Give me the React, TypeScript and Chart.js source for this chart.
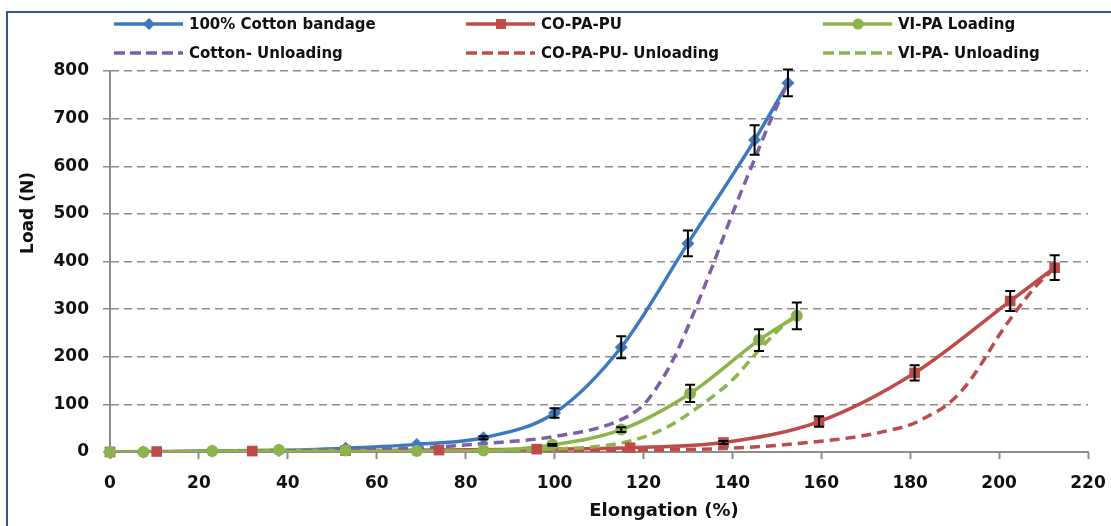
import React, { useEffect, useRef } from "react";
import { Chart, registerables } from "chart.js";

Chart.register(...registerables);

// ---- Data ----
const cottonX = [0, 7.5, 23, 38, 53, 69, 84, 100, 115, 130, 145, 152.5];
const cottonLoad = [0, 0, 2, 3, 8, 16, 30, 82, 220, 438, 655, 775];
const cottonErr = [0, 0, 0, 0, 0, 0, 3, 10, 23, 27, 31, 28];

const coPaPuX = [0, 10.5, 32, 53, 74, 96, 117, 138, 159.5, 181, 202.5, 212.5];
const coPaPuLoad = [0, 1, 2, 3, 4, 6, 9, 20, 64, 166, 317, 387];
const coPaPuErr = [0, 0, 0, 0, 0, 0, 0, 3, 11, 16, 21, 26];

const viPaX = [0, 7.5, 23, 38, 53, 69, 84, 99.5, 115, 130.5, 146, 154.5];
const viPaLoad = [0, 0, 2, 4, 3, 2, 3, 15, 47, 123, 235, 286];
const viPaErr = [0, 0, 0, 0, 0, 0, 0, 2, 5, 18, 23, 28];

const cottonUnlX = [0, 23, 53, 69, 84.5, 99.5, 114, 120, 124, 127, 131, 135.5, 140, 145, 149, 152.5];
const cottonUnlLoad = [0, 1, 4, 8, 18, 32, 64, 99, 150, 200, 285, 390, 500, 615, 705, 775];

const coPaPuUnlX = [0, 53, 100, 120, 140, 159.3, 170, 175, 180, 184, 188, 192, 196, 200, 204, 208, 212.5];
const coPaPuUnlLoad = [0, 1, 2, 4, 8, 22, 35, 45, 57, 75, 97, 133, 185, 245, 298, 345, 387];

const viPaUnlX = [0, 53, 84, 91, 100, 110, 116.5, 122, 127, 132, 136.6, 140, 146, 152, 154.5];
const viPaUnlLoad = [0, 1, 2, 3, 6, 12, 22, 38, 61, 92, 124, 151, 214, 270, 286];

const xTicks = { min: 0, max: 220, step: 20 };
const yTicks = { min: 0, max: 800, step: 100 };

const seriesNames = [
  "100% Cotton bandage",
  "CO-PA-PU",
  "VI-PA Loading",
  "Cotton- Unloading",
  "CO-PA-PU- Unloading",
  "VI-PA- Unloading",
];
const xTitle = "Elongation (%)";
const yTitle = "Load (N)";

// ---- Styles ----
const BLUE = "#3C7AC0";
const RED = "#BE4B48";
const GREEN = "#8DB34B";
const PURPLE = "#7D5FA5";
const GRID = "#8C8C8C";
const FONT = "'DejaVu Sans', sans-serif";
const DASH = [10, 6];

const pts = (xs: number[], ys: number[]) => xs.map((x, i) => ({ x, y: ys[i] }));

function drawMarker(ctx: CanvasRenderingContext2D, style: string, x: number, y: number, r: number, color: string) {
  ctx.save();
  ctx.fillStyle = color;
  ctx.strokeStyle = color;
  ctx.setLineDash([]);
  ctx.beginPath();
  if (style === "rectRot") {
    ctx.moveTo(x, y - r);
    ctx.lineTo(x + r, y);
    ctx.lineTo(x, y + r);
    ctx.lineTo(x - r, y);
    ctx.closePath();
  } else if (style === "rect") {
    const s = r * Math.SQRT1_2;
    ctx.rect(x - s, y - s, 2 * s, 2 * s);
  } else {
    ctx.arc(x, y, r, 0, Math.PI * 2);
  }
  ctx.fill();
  ctx.restore();
}

// Markers are drawn after every line (as the spreadsheet does), then error bars.
const markersAndErrorsPlugin = {
  id: "markersAndErrors",
  afterDatasetsDraw(chart: any) {
    const { ctx } = chart;
    const xs = chart.scales.x;
    const ys = chart.scales.y;
    ctx.save();
    ctx.beginPath();
    ctx.rect(chart.chartArea.left - 8, chart.chartArea.top - 8, chart.chartArea.right - chart.chartArea.left + 16, chart.chartArea.bottom - chart.chartArea.top + 16);
    ctx.clip();
    chart.data.datasets.forEach((ds: any) => {
      if (!(ds.markerRadius > 0)) return;
      ds.data.forEach((p: any) => {
        drawMarker(ctx, ds.pointStyle, xs.getPixelForValue(p.x), ys.getPixelForValue(p.y), ds.markerRadius, ds.borderColor);
      });
    });
    ctx.restore();
    chart.data.datasets.forEach((ds: any) => {
      const errs: number[] | undefined = ds.errors;
      if (!errs) return;
      ds.data.forEach((p: any, j: number) => {
        const e = errs[j];
        if (!e) return;
        const px = xs.getPixelForValue(p.x);
        const top = ys.getPixelForValue(p.y + e);
        const bot = ys.getPixelForValue(p.y - e);
        ctx.save();
        ctx.strokeStyle = "#000";
        ctx.lineWidth = 2;
        ctx.beginPath();
        ctx.moveTo(px, top);
        ctx.lineTo(px, bot);
        ctx.moveTo(px - 5, top);
        ctx.lineTo(px + 5, top);
        ctx.moveTo(px - 5, bot);
        ctx.lineTo(px + 5, bot);
        ctx.stroke();
        ctx.restore();
      });
    });
  },
};

const legendSlots = [
  { x: 114, y: 24 },
  { x: 466, y: 24 },
  { x: 823, y: 24 },
  { x: 114, y: 53 },
  { x: 466, y: 53 },
  { x: 823, y: 53 },
];

const customLegendPlugin = {
  id: "customLegend",
  afterDraw(chart: any) {
    const { ctx } = chart;
    chart.data.datasets.forEach((ds: any, i: number) => {
      const slot = legendSlots[i];
      if (!slot) return;
      ctx.save();
      ctx.strokeStyle = ds.borderColor;
      ctx.lineWidth = 3.5;
      ctx.setLineDash(ds.borderDash && ds.borderDash.length ? [11, 5] : []);
      ctx.beginPath();
      ctx.moveTo(slot.x, slot.y);
      ctx.lineTo(slot.x + 69, slot.y);
      ctx.stroke();
      ctx.restore();
      if (ds.markerRadius > 0) {
        drawMarker(ctx, ds.pointStyle, slot.x + 35, slot.y, ds.markerRadius - 0.5, ds.borderColor);
      }
      ctx.save();
      ctx.fillStyle = "#111";
      ctx.font = `bold 15px ${FONT}`;
      ctx.textBaseline = "middle";
      ctx.textAlign = "left";
      ctx.fillText(ds.label, slot.x + 75, slot.y + 1);
      ctx.restore();
    });
  },
};

const titlesPlugin = {
  id: "axisTitles",
  afterDraw(chart: any) {
    const { ctx } = chart;
    ctx.save();
    ctx.fillStyle = "#111";
    ctx.font = `bold 18px ${FONT}`;
    ctx.textAlign = "center";
    ctx.textBaseline = "middle";
    ctx.fillText(xTitle, 664, 511);
    ctx.translate(29, 213);
    ctx.rotate(-Math.PI / 2);
    ctx.font = `bold 17px ${FONT}`;
    ctx.fillText(yTitle, 0, 0);
    ctx.restore();
  },
};

export default function App() {
  const canvasRef = useRef<HTMLCanvasElement | null>(null);

  useEffect(() => {
    if (!canvasRef.current) return;
    const tickFont = { family: FONT, size: 17, weight: "bold" as const };
    const chart = new Chart(canvasRef.current, {
      type: "line",
      data: {
        datasets: [
          {
            label: seriesNames[0],
            data: pts(cottonX, cottonLoad),
            errors: cottonErr,
            borderColor: BLUE,
            backgroundColor: BLUE,
            borderWidth: 3.5,
            pointStyle: "rectRot",
            pointRadius: 0,
            markerRadius: 6.5,
            cubicInterpolationMode: "monotone",
            order: 6,
          } as any,
          {
            label: seriesNames[1],
            data: pts(coPaPuX, coPaPuLoad),
            errors: coPaPuErr,
            borderColor: RED,
            backgroundColor: RED,
            borderWidth: 3.5,
            pointStyle: "rect",
            pointRadius: 0,
            markerRadius: 7.5,
            cubicInterpolationMode: "monotone",
            order: 5,
          } as any,
          {
            label: seriesNames[2],
            data: pts(viPaX, viPaLoad),
            errors: viPaErr,
            borderColor: GREEN,
            backgroundColor: GREEN,
            borderWidth: 3.5,
            pointStyle: "circle",
            pointRadius: 0,
            markerRadius: 6,
            cubicInterpolationMode: "monotone",
            order: 4,
          } as any,
          {
            label: seriesNames[3],
            data: pts(cottonUnlX, cottonUnlLoad),
            borderColor: PURPLE,
            backgroundColor: PURPLE,
            borderWidth: 3.5,
            borderDash: DASH,
            pointRadius: 0,
            cubicInterpolationMode: "monotone",
            order: 3,
          } as any,
          {
            label: seriesNames[4],
            data: pts(coPaPuUnlX, coPaPuUnlLoad),
            borderColor: RED,
            backgroundColor: RED,
            borderWidth: 3.5,
            borderDash: DASH,
            pointRadius: 0,
            cubicInterpolationMode: "monotone",
            order: 2,
          } as any,
          {
            label: seriesNames[5],
            data: pts(viPaUnlX, viPaUnlLoad),
            borderColor: GREEN,
            backgroundColor: GREEN,
            borderWidth: 3.5,
            borderDash: DASH,
            pointRadius: 0,
            cubicInterpolationMode: "monotone",
            order: 1,
          } as any,
        ],
      },
      options: {
        animation: false,
        responsive: false,
        layout: { padding: { top: 71, right: 23, left: 0, bottom: 0 } },
        plugins: {
          legend: { display: false },
          tooltip: { enabled: false },
        },
        scales: {
          x: {
            type: "linear",
            min: xTicks.min,
            max: xTicks.max,
            ticks: { stepSize: xTicks.step, font: tickFont, color: "#111", padding: 14 },
            grid: { drawOnChartArea: false, tickLength: 7, tickColor: GRID, tickWidth: 2 },
            border: { color: GRID, width: 2 },
            afterFit: (s: any) => {
              s.height = 74;
              s.paddingLeft = 0;
              s.paddingRight = 0;
            },
          },
          y: {
            type: "linear",
            min: yTicks.min,
            max: yTicks.max,
            ticks: { stepSize: yTicks.step, font: tickFont, color: "#111", padding: 14 },
            grid: { color: GRID, lineWidth: 1.5, tickLength: 7, tickColor: GRID, tickWidth: 1.5 },
            border: { color: GRID, width: 2, dash: [8, 5] },
            afterFit: (s: any) => {
              s.width = 110;
              s.paddingTop = 0;
              s.paddingBottom = 0;
            },
          },
        },
      } as any,
      plugins: [markersAndErrorsPlugin, customLegendPlugin, titlesPlugin],
    });
    return () => chart.destroy();
  }, []);

  return (
    <div
      style={{
        position: "fixed",
        left: 0,
        top: 0,
        width: 1111,
        height: 526,
        overflow: "hidden",
        background: "#fff",
      }}
    >
      <canvas ref={canvasRef} width={1111} height={526} style={{ display: "block" }} />
      <div
        style={{
          position: "absolute",
          left: 6,
          top: 11,
          width: 1300,
          height: 700,
          border: "2px solid #2C5A8F",
          pointerEvents: "none",
        }}
      />
    </div>
  );
}
